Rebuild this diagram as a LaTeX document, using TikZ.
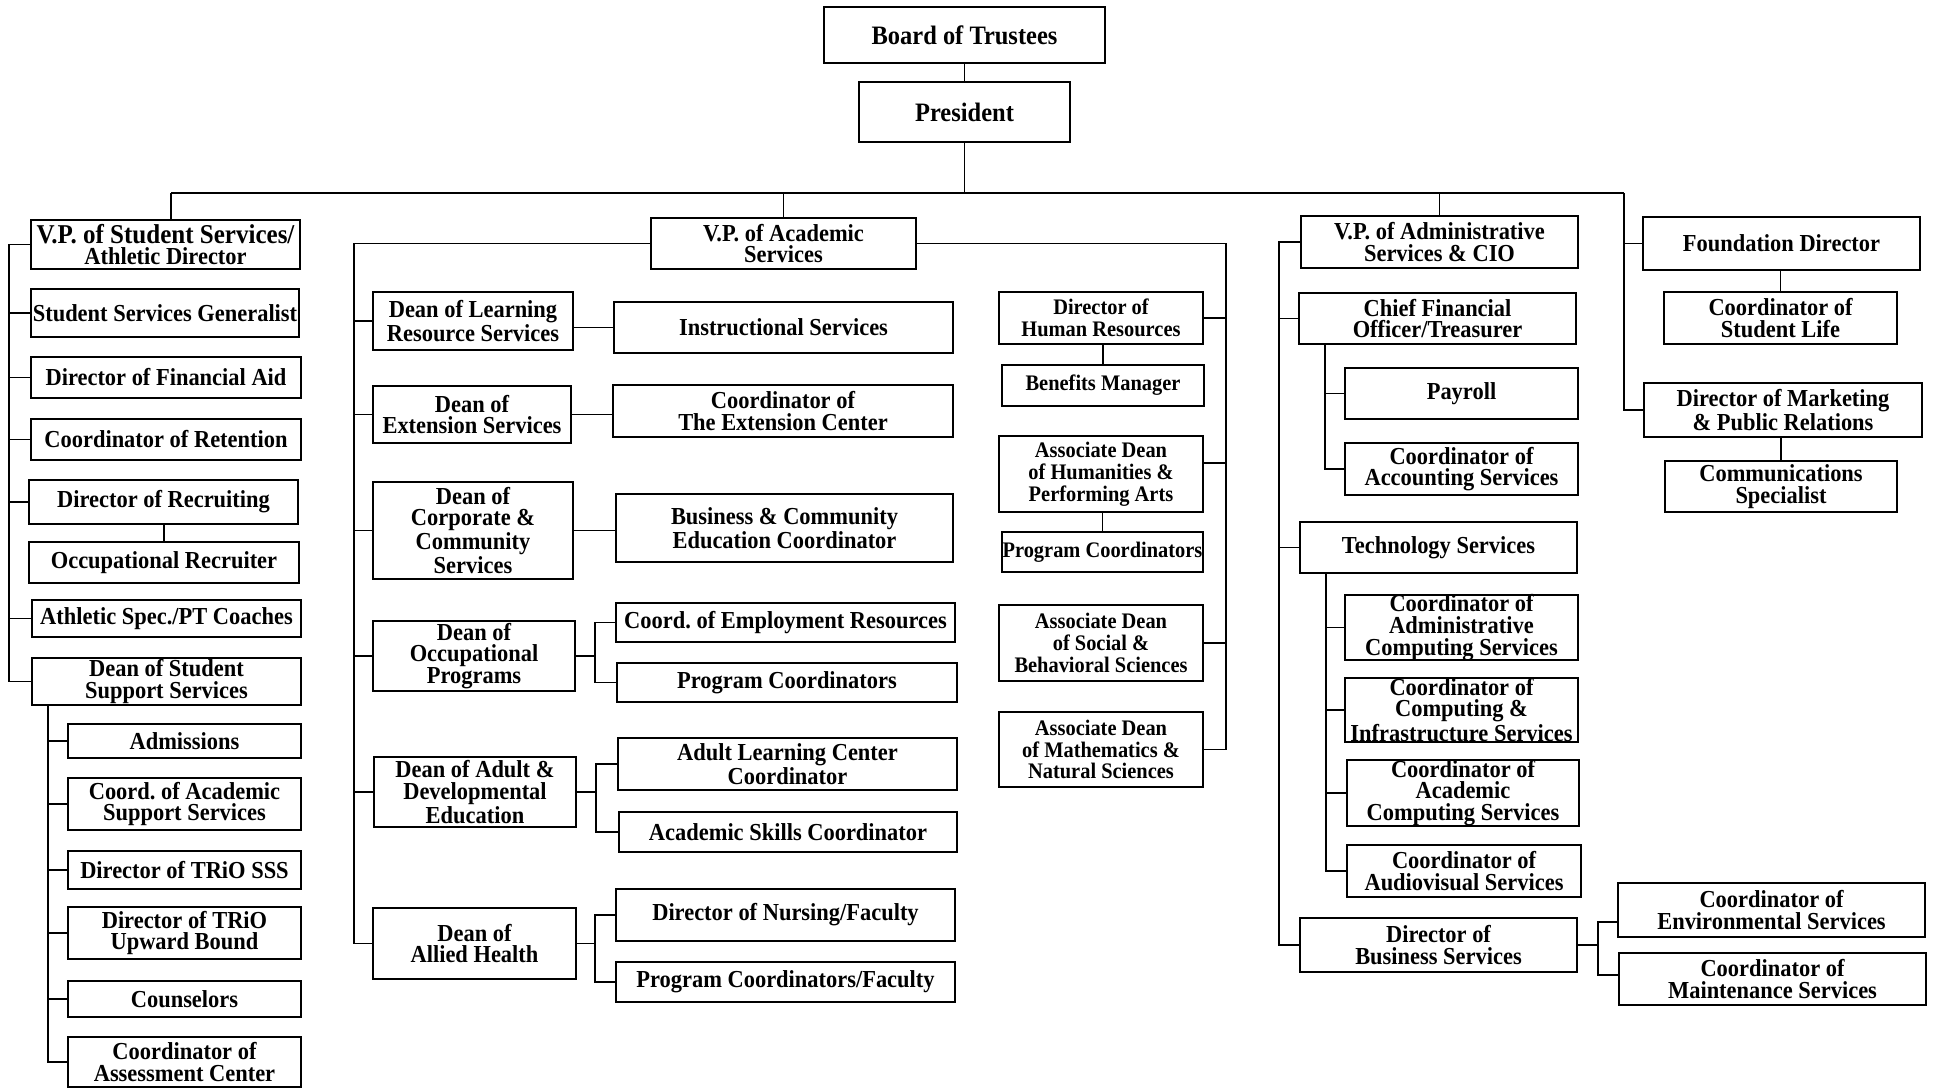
\documentclass[tikz,border=0pt]{standalone}
\usepackage{fontspec}
\setmainfont{Liberation Serif}[FakeStretch=0.92]
\newcommand\mainfnt{\fontsize{12.2pt}{10.8pt}\selectfont\bfseries}
\newcommand\hrfnt{\fontsize{11.1pt}{10.9pt}\selectfont\bfseries}
\newcommand\bigfnt{\fontsize{13.3pt}{12pt}\selectfont\bfseries}
\tikzset{
 box/.style={draw, line width=0.9pt, inner sep=0pt, align=center, font=\mainfnt},
 hrbox/.style={font=\hrfnt},
 bigbox/.style={font=\bigfnt},
 ln/.style={line width=0.7pt},
}
\newcommand\bx[7][]{\node[box,#1,minimum width={(#5-#3)*0.5pt},minimum height={(#6-#4)*0.5pt}] (#2) at ({(#3+#5)/2},{(#4+#6)/2}) {#7};}
\begin{document}
\begin{tikzpicture}[x=0.5pt,y=-0.5pt]
\useasboundingbox (0,0) rectangle (1933,1088);
% top
\bx[bigbox]{board}{824}{7}{1105}{63}{Board of Trustees}
\bx[bigbox]{pres}{859}{82}{1070}{142}{President}
% student services column
\bx{vps}{31}{220}{300}{269}{{\fontsize{13.6pt}{10.8pt}\selectfont V.P. of Student Services/}\\Athletic Director}
\bx{ssg}{31}{289}{299}{337}{Student Services Generalist}
\bx{fa}{31}{357}{301}{398}{Director of Financial Aid}
\bx{ret}{31}{419}{301}{460}{Coordinator of Retention}
\bx{rec}{29}{480}{298}{524}{Director of Recruiting}
\bx{orec}{29}{542}{299}{583}{Occupational Recruiter}
\bx{ath}{32}{600}{301}{637}{Athletic Spec./PT Coaches}
\bx{dss}{32}{658}{301}{705}{Dean of Student\\Support Services}
\bx{adm}{68}{724}{301}{758}{Admissions}
\bx{cas}{68}{778}{301}{830}{Coord.\ of Academic\\Support Services}
\bx{tsss}{68}{851}{301}{889}{Director of TRiO SSS}
\bx{tub}{68}{907}{301}{959}{Director of TRiO\\Upward Bound}
\bx{cou}{68}{981}{301}{1017}{Counselors}
\bx{asc}{68}{1037}{301}{1087}{Coordinator of\\Assessment Center}
% academic column
\bx{vpa}{651}{218}{916}{269}{V.P. of Academic\\Services}
\bx{dlr}{373}{292}{573}{350}{Dean of Learning\\Resource Services}
\bx{ins}{614}{302}{953}{353}{Instructional Services}
\bx{dex}{373}{386}{571}{443}{Dean of\\Extension Services}
\bx{cec}{613}{385}{953}{437}{Coordinator of\\The Extension Center}
\bx{dco}{373}{482}{573}{579}{Dean of\\Corporate \&\\Community\\Services}
\bx{bce}{616}{494}{953}{562}{Business \& Community\\Education Coordinator}
\bx{doc}{373}{621}{575}{691}{Dean of\\Occupational\\Programs}
\bx{cer}{616}{603}{955}{642}{Coord.\ of Employment Resources}
\bx{pcone}{617}{663}{957}{702}{Program Coordinators}
\bx{dad}{374}{757}{576}{827}{Dean of Adult \&\\Developmental\\Education}
\bx{alc}{618}{738}{957}{790}{Adult Learning Center\\Coordinator}
\bx{ask}{619}{812}{957}{852}{Academic Skills Coordinator}
\bx{dah}{373}{908}{576}{979}{Dean of\\Allied Health}
\bx{dnf}{616}{889}{955}{941}{Director of Nursing/Faculty}
\bx{pcf}{616}{962}{955}{1002}{Program Coordinators/Faculty}
% HR / associate deans column
\bx[hrbox]{dhr}{999}{292}{1203}{344}{Director of\\Human Resources}
\bx[hrbox]{bm}{1002}{365}{1204}{406}{Benefits Manager}
\bx[hrbox]{dhu}{999}{436}{1203}{512}{Associate Dean\\of Humanities \&\\Performing Arts}
\bx[hrbox]{pch}{1002}{532}{1203}{572}{Program Coordinators}
\bx[hrbox]{dso}{999}{605}{1203}{681}{Associate Dean\\of Social \&\\Behavioral Sciences}
\bx[hrbox]{dma}{999}{712}{1203}{787}{Associate Dean\\of Mathematics \&\\Natural Sciences}
% administrative column
\bx{vpad}{1301}{216}{1578}{268}{V.P. of Administrative\\Services \& CIO}
\bx{cfo}{1299}{293}{1576}{344}{Chief Financial\\Officer/Treasurer}
\bx{pay}{1345}{368}{1578}{419}{Payroll}
\bx{cac}{1345}{443}{1578}{495}{Coordinator of\\Accounting Services}
\bx{tec}{1300}{522}{1577}{573}{Technology Services}
\bx{cadc}{1345}{596}{1578}{659}{Coordinator of\\Administrative\\Computing Services}
\bx{cci}{1345}{678}{1578}{742}{Coordinator of\\Computing \&\\Infrastructure Services}
\bx{cacc}{1347}{761}{1579}{825}{Coordinator of\\Academic\\Computing Services}
\bx{cav}{1347}{845}{1581}{897}{Coordinator of\\Audiovisual Services}
\bx{dbs}{1300}{918}{1577}{972}{Director of\\Business Services}
\bx{cenv}{1618}{883}{1925}{937}{Coordinator of\\Environmental Services}
\bx{cmt}{1619}{953}{1926}{1005}{Coordinator of\\Maintenance Services}
% foundation column
\bx{fd}{1643}{217}{1920}{270}{Foundation Director}
\bx{csl}{1664}{292}{1897}{344}{Coordinator of\\Student Life}
\bx{mkt}{1644}{383}{1922}{437}{Director of Marketing\\\& Public Relations}
\bx{com}{1665}{461}{1897}{512}{Communications\\Specialist}
% ---- connectors ----
\coordinate (tl) at (171,193);
\coordinate (tr) at (1624,193);
\draw[ln] (board.south) -- (pres.north);
\draw[ln] (pres.south) -- (pres.south |- tl);
\draw[ln] (tl) -- (tr);
\draw[ln] (tl) -- (tl |- vps.north);
\draw[ln] (vpa.north |- tl) -- (vpa.north);
\draw[ln] (vpad.north |- tl) -- (vpad.north);
\draw[ln] (tr) |- (mkt.west);
\draw[ln] (fd.west) -- (fd.west -| tr);
\draw[ln] (csl.north) -- (csl.north |- fd.south);
\draw[ln] (com.north) -- (com.north |- mkt.south);
% student services
\coordinate (sL) at (9,0);
\draw[ln] (vps.west) -- (vps.west -| sL) |- (dss.west);
\foreach \n in {ssg,fa,ret,rec,ath} \draw[ln] (\n.west) -- (\n.west -| sL);
\draw[ln] (orec.north) -- (orec.north |- rec.south);
\coordinate (sLL) at (48,0);
\draw[ln] (dss.south -| sLL) |- (asc.west);
\foreach \n in {adm,cas,tsss,tub,cou} \draw[ln] (\n.west) -- (\n.west -| sLL);
% academic
\coordinate (aL) at (354,0);
\draw[ln] (vpa.west) -- (vpa.west -| aL) |- (dah.west);
\foreach \n in {dlr,dex,dco,doc,dad} \draw[ln] (\n.west) -- (\n.west -| aL);
\draw[ln] (ins.west) -- (ins.west -| dlr.east);
\draw[ln] (dex.east) -- (dex.east -| cec.west);
\draw[ln] (dco.east) -- (dco.east -| bce.west);
\coordinate (bA) at (595,0);
\coordinate (bB) at (596,0);
\draw[ln] (doc.east) -- (doc.east -| bA);
\draw[ln] (cer.west) -- (cer.west -| bA) -- (pcone.west -| bA) -- (pcone.west);
\draw[ln] (dad.east) -- (dad.east -| bB);
\draw[ln] (alc.west) -- (alc.west -| bB) -- (ask.west -| bB) -- (ask.west);
\draw[ln] (dah.east) -- (dah.east -| bA);
\draw[ln] (dnf.west) -- (dnf.west -| bA) -- (pcf.west -| bA) -- (pcf.west);
% HR / associate deans
\coordinate (aR) at (1226,0);
\coordinate (huS) at ([yshift=5.5pt]dhu.east);
\draw[ln] (vpa.east) -- (vpa.east -| aR) |- (dma.east);
\draw[ln] (dhr.east) -- (dhr.east -| aR);
\draw[ln] (huS) -- (huS -| aR);
\draw[ln] (dso.east) -- (dso.east -| aR);
\draw[ln] (bm.north) -- (bm.north |- dhr.south);
\draw[ln] (pch.north) -- (pch.north |- dhu.south);
% administrative
\coordinate (dL) at (1279,0);
\draw[ln] (vpad.west) -- (vpad.west -| dL) |- (dbs.west);
\foreach \n in {cfo,tec} \draw[ln] (\n.west) -- (\n.west -| dL);
\coordinate (cL) at (1325,0);
\draw[ln] (cfo.south -| cL) |- (cac.west);
\draw[ln] (pay.west) -- (pay.west -| cL);
\coordinate (tL) at (1326,0);
\draw[ln] (tec.south -| tL) |- (cav.west);
\foreach \n in {cadc,cci,cacc} \draw[ln] (\n.west) -- (\n.west -| tL);
\coordinate (eR) at (1598,0);
\coordinate (ce) at ([yshift=-6pt]cenv.west);
\coordinate (cm) at ([yshift=2pt]cmt.west);
\draw[ln] (dbs.east) -- (dbs.east -| eR);
\draw[ln] (ce) -- (ce -| eR) -- (cm -| eR) -- (cm);
\end{tikzpicture}
\end{document}
